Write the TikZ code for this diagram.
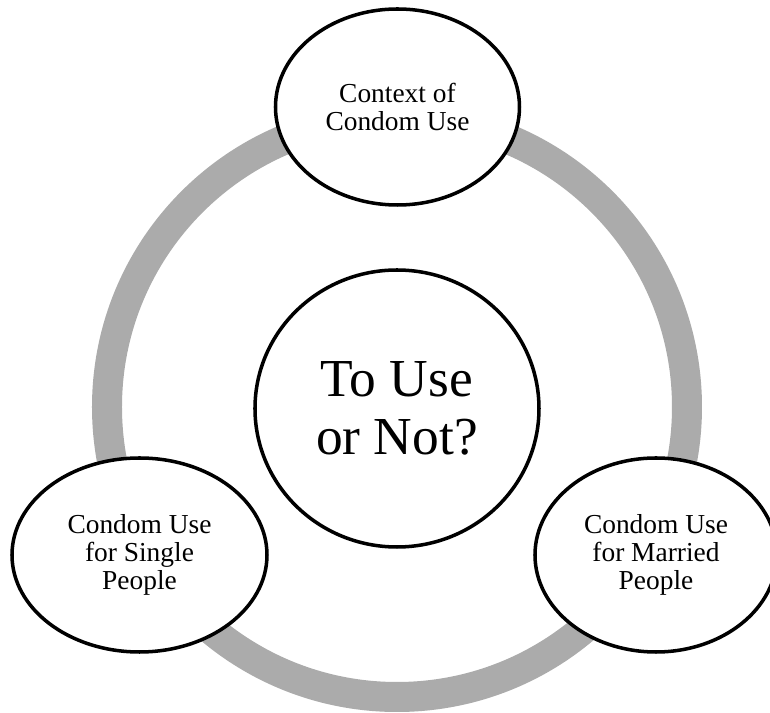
\documentclass[tikz,border=0pt]{standalone}
\usepackage{fontspec}
\setmainfont{Liberation Serif}
\usepackage{tikz}
\usetikzlibrary{shapes.geometric}
\definecolor{ringgray}{RGB}{171,171,171}
\tikzset{
  topicbox/.style={ellipse, draw=black, line width=2pt, fill=white, inner sep=0pt,
    align=center, font=\fontsize{15.6}{16}\selectfont},
  corebox/.style={ellipse, draw=black, line width=2pt, fill=white, inner sep=0pt,
    align=center, font=\fontsize{30.4}{33}\selectfont}
}

\begin{document}
\begin{tikzpicture}
\useasboundingbox (-7.94,-6.12) rectangle (7.46,8.14);

\draw[ringgray, line width=0.6cm] (0,0) circle (5.8);

\node[corebox, minimum width=5.68cm, minimum height=5.54cm] (core) at (0,-0.03) {To Use\\or Not?};

\node[topicbox, minimum width=4.88cm, minimum height=3.92cm] (context) at (0.01,6.0) {Context of\\Condom Use};
\node[topicbox, minimum width=5.1cm, minimum height=3.88cm] (single) at (-5.15,-2.96) {Condom Use\\for Single\\People};
\node[topicbox, minimum width=4.84cm, minimum height=3.88cm] (married) at (5.18,-2.96) {Condom Use\\for Married\\People};
\end{tikzpicture}
\end{document}
